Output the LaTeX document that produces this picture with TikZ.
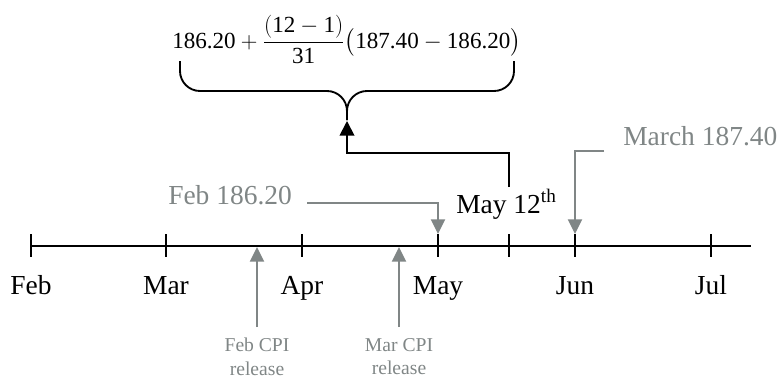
\documentclass[tikz,border=0pt]{standalone}
\usepackage{amsmath}
\usepackage{fontspec}
\setmainfont{Liberation Serif}
\usetikzlibrary{arrows.meta}
\definecolor{cgray}{RGB}{128,134,134}
\newcommand\labfont{\fontsize{20.6}{24}\selectfont}
\newcommand\smallfont{\fontsize{14.7}{17.5}\selectfont}
\newcommand\eqfont{\fontsize{17.3}{20}\selectfont}
\begin{document}
\begin{tikzpicture}[x=0.75pt,y=-0.75pt,
  axis/.style={line width=1.4pt,black},
  garrow/.style={draw=cgray,line width=1.5pt,-{Triangle[width=10.5pt,length=11pt]}},
  barrow/.style={draw=black,line width=1.4pt,-{Triangle[width=11pt,length=11pt]}},
  mlab/.style={font=\labfont,inner sep=0pt,anchor=base},
  glab/.style={font=\labfont,text=cgray,inner sep=0pt,anchor=base west},
  slab/.style={font=\smallfont,text=cgray,inner sep=0pt,anchor=north,align=center},
  bracestyle/.style={draw=black,line width=1.4pt,rounded corners=15pt}]
\useasboundingbox (0,0) rectangle (780,379);
% timeline
\coordinate (L) at (31,246);
\coordinate (R) at (751,246);
\draw[axis] (L) -- (R);
\foreach \n/\x in {feb/31,mar/166,apr/302,may/438,twelve/509,jun/575,jul/711}{
  \coordinate (\n top) at (\x,234);
  \coordinate (\n bot) at (\x,257);
  \draw[axis] (\n top) -- (\n bot);
}
% month labels
\node[mlab] (lfeb) at (31,294) {Feb};
\node[mlab] (lmar) at (166,294) {Mar};
\node[mlab] (lapr) at (302,294) {Apr};
\node[mlab] (lmay) at (438,294) {May};
\node[mlab] (ljun) at (575,294) {Jun};
\node[mlab] (ljul) at (711,294) {Jul};
% gray index labels
\node[glab] (febidx) at (168,204) {Feb 186.20};
\coordinate (febs) at (307,203);
\draw[garrow] (febs) -| (maytop);
\node[glab] (maridx) at (623,145) {March 187.40};
\coordinate (mars) at (604,151);
\draw[garrow] (mars) -| (juntop);
% May 12th
\node[mlab,anchor=base west] (may12) at (456,213) {May 12\textsuperscript{th}};
% CPI release arrows
\coordinate (fcpi) at (257,327);
\coordinate (fcpitip) at (257,247);
\coordinate (mcpi) at (399,327);
\coordinate (mcpitip) at (399,247);
\draw[garrow] (fcpi) -- (fcpitip);
\draw[garrow] (mcpi) -- (mcpitip);
\node[slab] (fcpilab) at (257,338) {Feb CPI\\release};
\node[slab] (mcpilab) at (399,338) {Mar CPI\\release};
% equation
\node[inner sep=0pt,anchor=base west,font=\eqfont] (eq) at (172,48)
  {$\displaystyle \text{186.20} + \frac{(\text{12} - \text{1})}{\text{31}}\bigl(\text{187.40} - \text{186.20}\bigr)$};
% brace
\coordinate (bl) at (180,61);
\coordinate (br) at (514,61);
\coordinate (bc) at (347,120);
\draw[bracestyle] (bl) -- (180,91) -- (347,91) -- (bc);
\draw[bracestyle] (br) -- (514,91) -- (347,91) -- (bc);
% black connector
\coordinate (c1) at (509,187);
\coordinate (c2) at (347,153);
\coordinate (ctip) at (347,121);
\draw[barrow] (c1) |- (c2) -- (ctip);
\end{tikzpicture}
\end{document}
